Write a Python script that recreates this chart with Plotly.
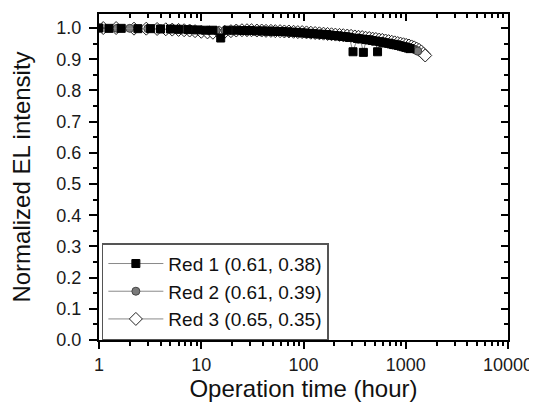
import plotly.graph_objects as go

# ---- data ----
t1 = [1, 1.25, 1.65, 2.4, 3.2, 4, 5, 6, 7.4, 9, 11, 13, 15.5, 18, 22, 26, 30, 35, 40, 45,
      50, 56, 62, 70, 78, 86, 95, 105, 115, 125, 140, 155, 170, 185, 200, 220, 240, 260, 280, 305,
      335, 360, 385, 410, 440, 470, 505, 530, 560, 600, 640, 680, 720, 760, 800, 850, 900, 950, 1000, 1050,
      1100]
v1 = [1.0, 0.999, 0.999, 0.998, 0.998, 0.997, 0.997, 0.996, 0.995, 0.994, 0.993, 0.993, 0.968, 0.993, 0.993, 0.992, 0.992, 0.991, 0.991, 0.99,
      0.99, 0.989, 0.989, 0.988, 0.987, 0.986, 0.985, 0.984, 0.983, 0.982, 0.981, 0.98, 0.979, 0.977, 0.976, 0.975, 0.973, 0.972, 0.97, 0.924,
      0.967, 0.965, 0.922, 0.963, 0.962, 0.96, 0.958, 0.924, 0.956, 0.954, 0.952, 0.951, 0.949, 0.947, 0.946, 0.944, 0.942, 0.94, 0.938, 0.936,
      0.934]

t2 = [1, 1.5, 2, 3, 4, 5, 6, 7, 8, 10, 12, 14, 17, 20, 24, 28, 33, 38, 44, 50,
      57, 65, 73, 82, 92, 103, 115, 128, 142, 158, 175, 195, 215, 235, 260, 285, 310, 340, 370, 400,
      430, 465, 500, 540, 580, 620, 665, 710, 760, 810, 860, 910, 960, 1010, 1060, 1110, 1160, 1210, 1260, 1310]
v2 = [1.0, 0.999, 0.999, 0.998, 0.998, 0.997, 0.996, 0.996, 0.995, 0.994, 0.993, 0.992, 0.992, 0.991, 0.991, 0.99, 0.99, 0.989, 0.989, 0.988,
      0.988, 0.987, 0.986, 0.985, 0.984, 0.983, 0.982, 0.981, 0.98, 0.979, 0.978, 0.976, 0.975, 0.974, 0.972, 0.971, 0.969, 0.968, 0.966, 0.965,
      0.963, 0.962, 0.96, 0.958, 0.957, 0.955, 0.953, 0.951, 0.95, 0.948, 0.946, 0.944, 0.942, 0.94, 0.938, 0.936, 0.934, 0.932, 0.929, 0.926]

t3 = [1.1, 1.47, 2.2, 2.9, 3.7, 4.5, 5.2, 6, 6.8, 7.7, 8.7, 10, 11.5, 13, 15, 17, 19.5, 22, 25, 28,
      31, 35, 39, 43, 48, 53, 59, 65, 72, 80, 88, 97, 107, 118, 130, 143, 157, 172, 188, 205,
      225, 245, 268, 292, 318, 345, 375, 405, 440, 475, 510, 550, 590, 635, 680, 730, 780, 835, 890, 950,
      1010, 1075, 1140, 1210, 1280, 1350, 1420, 1490, 1550]
v3 = [1.0, 1.0, 0.998, 0.998, 0.997, 0.996, 0.995, 0.994, 0.993, 0.992, 0.99, 0.988, 0.986, 0.985, 0.986, 0.988, 0.99, 0.992, 0.993, 0.993,
      0.993, 0.992, 0.992, 0.991, 0.991, 0.99, 0.99, 0.989, 0.989, 0.988, 0.987, 0.987, 0.986, 0.985, 0.984, 0.983, 0.982, 0.981, 0.98, 0.979,
      0.978, 0.977, 0.976, 0.975, 0.973, 0.972, 0.971, 0.969, 0.968, 0.966, 0.965, 0.963, 0.962, 0.96, 0.958, 0.956, 0.954, 0.952, 0.95, 0.948,
      0.946, 0.944, 0.941, 0.938, 0.934, 0.93, 0.925, 0.918, 0.912]

names = ["Red 1 (0.61, 0.38)", "Red 2 (0.61, 0.39)", "Red 3 (0.65, 0.35)"]
x_tickvals = [1, 10, 100, 1000, 10000]
x_ticktext = ["1", "10", "100", "1000", "10000"]
y_tickvals = [0.0, 0.1, 0.2, 0.3, 0.4, 0.5, 0.6, 0.7, 0.8, 0.9, 1.0]

fig = go.Figure()
# draw Red 3 first so darker series sit on top, keep legend order via legendrank
fig.add_trace(go.Scatter(x=t3, y=v3, name=names[2], mode="lines+markers", legendrank=3,
                         line=dict(color="#8a8a8a", width=1),
                         marker=dict(symbol="diamond", size=10, color="white", line=dict(color="#222222", width=1))))
fig.add_trace(go.Scatter(x=t2, y=v2, name=names[1], mode="lines+markers", legendrank=2,
                         line=dict(color="#8a8a8a", width=1),
                         marker=dict(symbol="circle", size=8, color="#7a7a7a", line=dict(color="#444444", width=1))))
fig.add_trace(go.Scatter(x=t1, y=v1, name=names[0], mode="lines+markers", legendrank=1,
                         line=dict(color="#8a8a8a", width=1),
                         marker=dict(symbol="square", size=8, color="black", line=dict(color="black", width=1))))
# empty trace to activate mirrored axes
fig.add_trace(go.Scatter(x=[], y=[], xaxis="x2", yaxis="y2", showlegend=False, hoverinfo="skip"))

xr = [0, 4]
yr = [0, 1.045]
tickfont = dict(family="Arial, Liberation Sans", size=18, color="#1a1a1a")

fig.update_layout(
    width=529, height=397,
    margin=dict(l=91, r=29, t=6, b=65),
    paper_bgcolor="white", plot_bgcolor="white",
    font=dict(family="Arial, Liberation Sans", color="#111111"),
    xaxis=dict(type="log", range=xr, showline=True, linecolor="black", linewidth=2,
               ticks="outside", ticklen=7, tickwidth=1.5, tickcolor="black",
               tickvals=x_tickvals, ticktext=x_ticktext, automargin=False,
               minor=dict(ticks="outside", ticklen=4, tickcolor="black", dtick="D1"),
               showgrid=False, zeroline=False, tickfont=tickfont,
               title=dict(text="Operation time (hour)", font=dict(size=24, color="#111111"), standoff=6)),
    yaxis=dict(range=yr, showline=True, linecolor="black", linewidth=2,
               ticks="outside", ticklen=8, tickwidth=1.5, tickcolor="black",
               tickvals=y_tickvals, tickformat=".1f", automargin=False, ticklabelstandoff=4,
               minor=dict(ticks="outside", ticklen=4, tickcolor="black", dtick=0.05),
               showgrid=False, zeroline=False, tickfont=tickfont,
               title=dict(text="Normalized EL intensity", font=dict(size=24, color="#111111"), standoff=21)),
    xaxis2=dict(type="log", range=xr, overlaying="x", side="top", anchor="y",
                showline=True, linecolor="black", linewidth=2, ticks="inside", ticklen=7,
                tickwidth=1.5, tickcolor="black", tickvals=x_tickvals,
                minor=dict(ticks="inside", ticklen=4, tickcolor="black", dtick="D1"),
                showticklabels=False, showgrid=False, zeroline=False),
    yaxis2=dict(range=yr, overlaying="y", side="right", anchor="x",
                showline=True, linecolor="black", linewidth=2, ticks="inside", ticklen=7,
                tickwidth=1.5, tickcolor="black", tickvals=y_tickvals,
                minor=dict(ticks="inside", ticklen=4, tickcolor="black", dtick=0.05),
                showticklabels=False, showgrid=False, zeroline=False),
    legend=dict(x=0.007, y=0.297, xanchor="left", yanchor="top",
                bordercolor="#555555", borderwidth=1.5, bgcolor="white",
                font=dict(size=19, color="#111111"), itemwidth=55,
                tracegroupgap=0),
    showlegend=True,
)

fig.write_html("out.html")
